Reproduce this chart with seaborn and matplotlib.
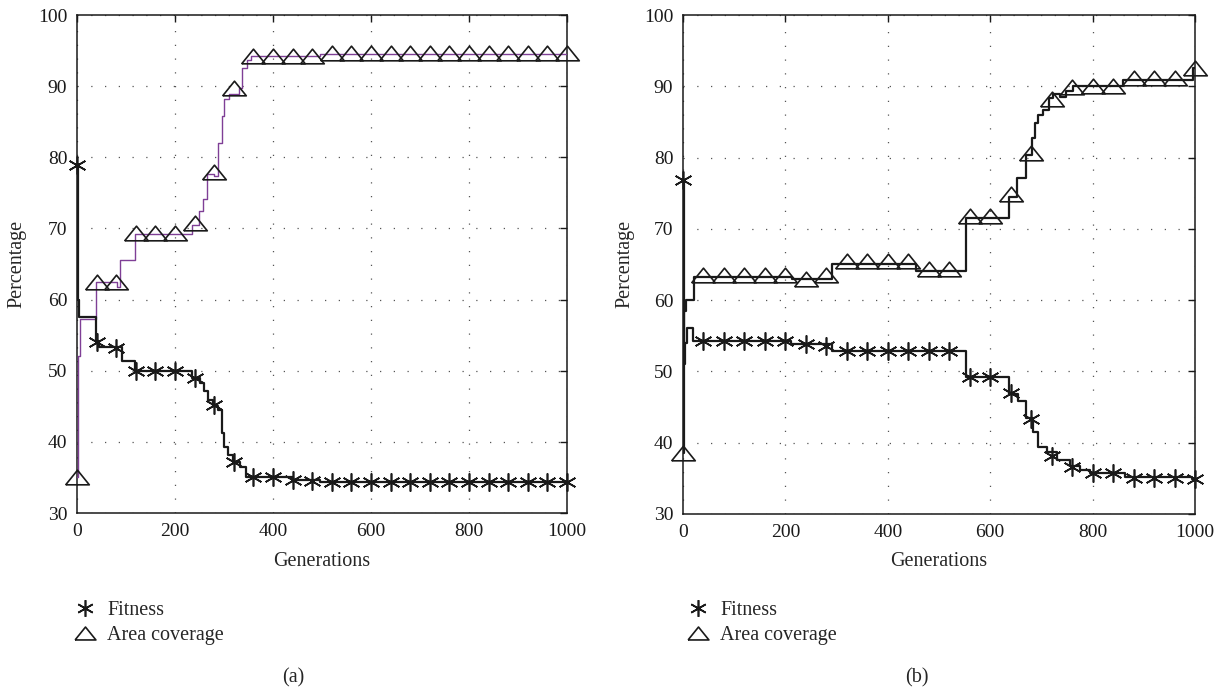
import matplotlib
matplotlib.use("Agg")
import matplotlib.pyplot as plt
import seaborn as sns
from matplotlib.lines import Line2D

# ----- data -----
# panel (a): step lines (generation where the value changes, value)
fit_a_gen = [0, 2, 5, 39, 45, 91, 118, 234, 251, 259, 268, 278, 288, 295, 300, 309, 319, 333, 345, 441, 496, 1000]
fit_a_val = [79.0, 60.0, 57.5, 54.2, 53.3, 51.4, 50.0, 49.0, 48.3, 47.2, 45.9, 45.1, 44.5, 41.3, 39.3, 38.2, 37.2, 36.5, 35.1, 34.7, 34.3, 34.3]
cov_a_gen = [0, 2, 6, 39, 81, 88, 118, 234, 249, 258, 266, 280, 288, 295, 300, 310, 330, 336, 346, 355, 496, 1000]
cov_a_val = [35.0, 52.0, 57.2, 62.5, 61.7, 65.5, 69.2, 70.5, 72.4, 74.1, 77.6, 77.3, 82.0, 85.8, 88.2, 88.9, 89.7, 92.6, 93.7, 94.2, 94.5, 94.5]

# panel (b)
fit_b_gen = [0, 1, 4, 8, 20, 210, 291, 553, 637, 654, 670, 684, 693, 710, 730, 756, 775, 795, 863, 995, 1000]
fit_b_val = [76.8, 51.0, 54.0, 56.1, 54.3, 53.8, 52.8, 49.2, 46.9, 45.8, 43.4, 41.5, 39.4, 38.7, 37.6, 36.7, 36.2, 35.8, 35.2, 34.9, 34.9]
cov_b_gen = [0, 2, 6, 21, 212, 291, 455, 552, 637, 653, 670, 681, 688, 694, 704, 714, 723, 736, 749, 762, 860, 997, 1000]
cov_b_val = [38.5, 58.5, 60.0, 63.2, 62.9, 65.1, 64.1, 71.5, 74.5, 77.2, 80.4, 82.8, 84.8, 86.0, 86.7, 88.3, 88.9, 88.5, 89.3, 90.0, 90.9, 92.5, 92.5]

# marker samples every 40 generations
marker_gen = list(range(0, 1001, 40))
fit_a_mk = [78.9, 54.1, 53.2, 49.9, 50.0, 50.0, 49.0, 45.2, 37.2, 35.0, 35.0, 34.7, 34.5] + [34.3] * 13
cov_a_mk = [35.0, 62.5, 62.5, 69.3, 69.3, 69.3, 70.7, 77.9, 89.7, 94.3, 94.3, 94.3, 94.3] + [94.6] * 13
fit_b_mk = [76.8, 54.3, 54.3, 54.3, 54.3, 54.3, 53.9, 53.6, 52.8, 52.8, 52.8, 52.8, 52.8, 52.8,
            49.2, 49.2, 47.0, 43.3, 38.1, 36.6, 35.8, 35.8, 35.1, 35.1, 35.1, 34.9]
cov_b_mk = [38.5, 63.5, 63.5, 63.5, 63.5, 63.5, 63.0, 63.5, 65.5, 65.5, 65.5, 65.5, 64.3, 64.3,
            71.8, 71.8, 74.9, 80.7, 88.2, 89.9, 90.1, 90.1, 91.2, 91.2, 91.2, 92.5]

x_ticks = [0, 200, 400, 600, 800, 1000]
y_ticks = [30, 40, 50, 60, 70, 80, 90, 100]

sns.set_theme(style="white")
plt.rcParams["font.family"] = ["Liberation Serif", "DejaVu Serif"]

PURPLE = "#7f3f96"
INK = "#1a1a1a"
STAR = (6, 2, 0)
TRI = [(-1, -0.62), (1, -0.62), (0, 0.62), (-1, -0.62)]

fig = plt.figure(figsize=(12.25, 6.92), dpi=100)
ax_a = fig.add_axes([77 / 1225, 1 - 513 / 692, 490 / 1225, 498 / 692])
ax_b = fig.add_axes([683 / 1225, 1 - 514 / 692, 512 / 1225, 499 / 692])


def draw_panel(ax, fg, fv, cg, cv, fmk, cmk, cov_color, cov_lw):
    sns.lineplot(x=cg, y=cv, ax=ax, drawstyle="steps-post", color=cov_color, lw=cov_lw, zorder=3)
    sns.lineplot(x=fg, y=fv, ax=ax, drawstyle="steps-post", color=INK, lw=1.6, zorder=3)
    sns.lineplot(x=marker_gen, y=fmk, ax=ax, marker=STAR, linestyle="none", markersize=13,
                 markeredgecolor=INK, markeredgewidth=1.2, clip_on=False, zorder=4)
    sns.lineplot(x=marker_gen, y=cmk, ax=ax, marker=TRI, linestyle="none", markersize=17,
                 markerfacecolor="none", markeredgecolor=INK, markeredgewidth=1.2,
                 clip_on=False, zorder=4)

    ax.set_xlim(0, 1000)
    ax.set_ylim(30, 100)
    ax.set_xticks(x_ticks)
    ax.set_yticks(y_ticks)
    ax.set_xlabel("")
    ax.set_ylabel("")
    ax.grid(True, linestyle=(0, (1, 10)), color="#555555", lw=0.9)
    ax.tick_params(direction="in", top=True, right=True, length=5, width=1,
                   labelsize=14, pad=7, colors=INK)
    for sp in ax.spines.values():
        sp.set_color(INK)
        sp.set_linewidth(1.1)


draw_panel(ax_a, fit_a_gen, fit_a_val, cov_a_gen, cov_a_val, fit_a_mk, cov_a_mk, PURPLE, 1.0)
draw_panel(ax_b, fit_b_gen, fit_b_val, cov_b_gen, cov_b_val, fit_b_mk, cov_b_mk, INK, 1.6)

# axis labels
fig.text(17 / 1225, 1 - 264 / 692, "Percentage", rotation=90, ha="center", va="center", fontsize=14.5)
fig.text(625 / 1225, 1 - 264 / 692, "Percentage", rotation=90, ha="center", va="center", fontsize=14.5)
fig.text(322 / 1225, 1 - 562 / 692, "Generations", ha="center", va="center", fontsize=14.5)
fig.text(939 / 1225, 1 - 562 / 692, "Generations", ha="center", va="center", fontsize=14.5)

# legends below each panel
handles = [
    Line2D([], [], linestyle="none", marker=STAR, markersize=12, markeredgecolor=INK,
           markeredgewidth=1.2, label="Fitness"),
    Line2D([], [], linestyle="none", marker=TRI, markersize=15, markerfacecolor="none",
           markeredgecolor=INK, markeredgewidth=1.2, label="Area coverage"),
]
for left in (75, 688):
    fig.legend(handles=handles, loc="upper left", bbox_to_anchor=(left / 1225, 1 - 601 / 692),
               frameon=False, fontsize=14.5, handlelength=1.0, handletextpad=0.6,
               labelspacing=0.3, borderpad=0, borderaxespad=0)

fig.text(293 / 1225, 1 - 678 / 692, "(a)", ha="center", va="center", fontsize=14.5)
fig.text(917 / 1225, 1 - 678 / 692, "(b)", ha="center", va="center", fontsize=14.5)

fig.savefig("out.png", dpi=100)
